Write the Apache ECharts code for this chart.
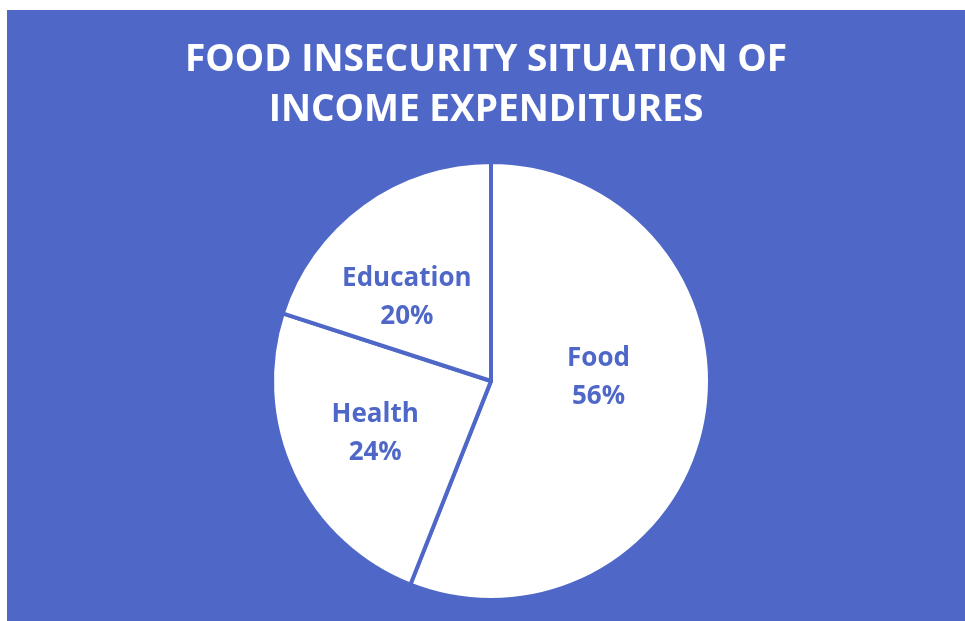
<!DOCTYPE html>
<html>
<head>
<meta charset="utf-8">
<script src="https://cdn.jsdelivr.net/npm/echarts@6/dist/echarts.min.js"></script>
<style>
  html, body { margin: 0; padding: 0; background: #ffffff; }
  #chart { position: absolute; left: 7px; top: 10px; width: 958px; height: 611px; background: #4F68C8; }
</style>
</head>
<body>
<div id="chart"></div>
<script>
const titleText = 'FOOD INSECURITY SITUATION OF\nINCOME EXPENDITURES';
const categories = ['Food', 'Health', 'Education'];
const values = [56, 24, 20];

const labelNudges = [[-3, -24], [-14, 5], [-18, 8]];
const blue = '#4F68C8';

const chart = echarts.init(document.getElementById('chart'), null, { renderer: 'canvas' });
chart.setOption({
  backgroundColor: 'transparent',
  animation: false,
  title: {
    text: titleText,
    left: 'center',
    top: 20,
    textStyle: {
      color: '#ffffff',
      fontFamily: 'Open Sans',
      fontWeight: 'bold',
      fontSize: 37,
      lineHeight: 50
    }
  },
  series: [{
    type: 'pie',
    center: [484, 371],
    radius: [0, 219],
    startAngle: 90,
    clockwise: true,
    silent: true,
    itemStyle: { color: '#ffffff', borderColor: blue, borderWidth: 4 },
    label: {
      show: true,
      position: 'inside',
      formatter: '{b}\n{d}%',
      color: blue,
      fontFamily: 'Open Sans',
      fontWeight: 'bold',
      fontSize: 26,
      lineHeight: 38
    },
    labelLine: { show: false },
    data: categories.map((c, i) => ({
      name: c,
      value: values[i],
      label: { offset: labelNudges[i] }
    }))
  }]
});
</script>
</body>
</html>
